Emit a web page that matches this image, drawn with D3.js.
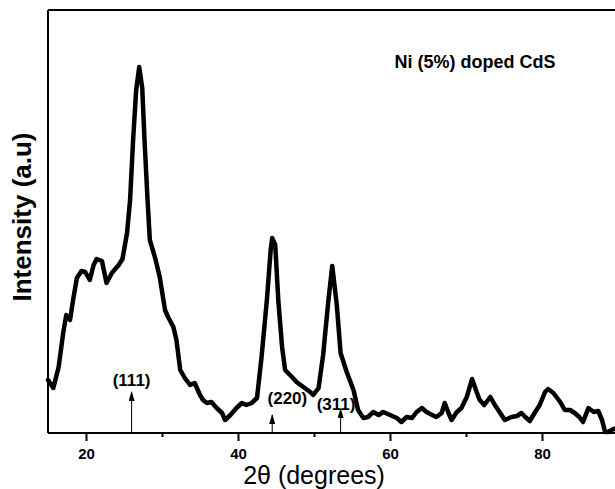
<!DOCTYPE html>
<html>
<head>
<meta charset="utf-8">
<script src="https://cdn.jsdelivr.net/npm/d3@7"></script>
<style>
  body { margin: 0; background: #fff; }
  svg { display: block; font-family: "Liberation Sans", Arial, sans-serif; }
</style>
</head>
<body>
<div id="main"></div>
<script>
// 2theta (deg) and intensity (a.u.)
var twoTheta = [15.0, 15.7, 16.4, 17.0, 17.4, 17.9, 18.3, 18.8, 19.4, 19.9, 20.5, 21.0, 21.4, 22.1, 22.7, 23.4, 24.3, 24.8, 25.4, 25.8,
  26.2, 26.6, 27.0, 27.4, 27.7, 28.1, 28.4, 29.1, 29.7, 30.4, 30.8, 31.5, 31.9, 32.4, 33.0, 33.7, 34.3, 35.0, 35.4, 35.9,
  36.5, 37.2, 37.9, 38.3, 39.0, 39.8, 40.5, 41.1, 41.8, 42.5, 43.1, 43.8, 44.3, 44.5, 44.9, 45.3, 45.8, 46.2, 47.1, 47.7,
  48.6, 49.5, 49.9, 50.6, 51.2, 51.9, 52.4, 53.0, 53.5, 54.3, 55.2, 55.8, 56.5, 57.1, 57.8, 58.5, 59.1, 60.0, 60.9, 61.5,
  62.2, 62.9, 63.5, 64.2, 64.8, 65.3, 66.1, 66.8, 67.2, 67.7, 68.1, 68.8, 69.4, 70.1, 70.8, 71.4, 71.8, 72.4, 73.2, 73.8,
  74.5, 75.1, 76.0, 76.7, 77.3, 77.8, 78.4, 79.1, 79.7, 80.4, 80.8, 81.5, 82.4, 83.0, 83.7, 84.3, 84.9, 85.4, 86.1, 86.8,
  87.4, 87.9, 88.3, 88.7, 89.4, 89.9];
var intensity = [53, 45, 66, 100, 118, 113, 133, 155, 162, 161, 153, 168, 174, 172, 150, 160, 168, 174, 200, 233,
  293, 343, 366, 345, 293, 233, 193, 175, 156, 123, 116, 106, 93, 63, 55, 48, 50, 38, 33, 30,
  31, 25, 20, 13, 18, 25, 30, 28, 30, 35, 76, 133, 183, 195, 188, 133, 86, 63, 56, 51,
  46, 41, 38, 45, 78, 133, 167, 128, 80, 61, 43, 23, 15, 16, 21, 18, 21, 18, 15, 11,
  16, 15, 21, 25, 21, 19, 16, 20, 30, 20, 13, 21, 25, 36, 54, 41, 33, 28, 36, 28,
  20, 13, 16, 17, 20, 16, 12, 21, 28, 41, 44, 40, 31, 23, 23, 20, 16, 11, 25, 21,
  22, 13, 1, 1, 4, 5];

// reflections (hkl) marked with arrows
var hkl = ['(111)', '(220)', '(311)'];
var peakPos = [26.0, 44.5, 53.5];
var arrowTop = [41, 18, 24];
var labelPos = [26.0, 46.5, 52.9];
var labelLevel = [47, 29, 23];

var xTicks = [20, 30, 40, 50, 60, 70, 80, 90];
var xTickLabels = [20, 40, 60, 80];

var width = 615,
    height = 489;

var svg = d3.select("#main").append("svg")
    .attr("width", width)
    .attr("height", height);

var x = d3.scaleLinear().domain([15, 90]).range([48, 618]);
var y = d3.scaleLinear().domain([0, 423]).range([433, 10]);

var data = twoTheta.map(function(d, i) { return {x: d, y: intensity[i]}; });

// frame: top and left
svg.append("line")
    .attr("x1", x(15)).attr("x2", width)
    .attr("y1", y(423)).attr("y2", y(423))
    .attr("stroke", "#000").attr("stroke-width", 2);
svg.append("line")
    .attr("x1", x(15)).attr("x2", x(15))
    .attr("y1", y(423)).attr("y2", y(0))
    .attr("stroke", "#000").attr("stroke-width", 2);

// bottom axis
var xAxis = d3.axisBottom(x)
    .tickValues(xTicks)
    .tickSize(7)
    .tickPadding(8)
    .tickFormat(function(d) { return xTickLabels.indexOf(d) >= 0 ? d : ""; });

var gx = svg.append("g")
    .attr("transform", "translate(0," + y(0) + ")")
    .call(xAxis);
gx.select(".domain").attr("stroke-width", 2).attr("d", "M" + x(15) + ",0H" + width);
gx.selectAll(".tick line")
    .attr("stroke-width", 2)
    .attr("y2", function(d) { return xTickLabels.indexOf(d) >= 0 ? 8 : 4; });
gx.selectAll(".tick text")
    .attr("font-size", 15)
    .attr("font-weight", "bold")
    .attr("font-family", "Liberation Sans, Arial, sans-serif")
    .attr("fill", "#000");

// pattern
var line = d3.line()
    .x(function(d) { return x(d.x); })
    .y(function(d) { return y(d.y); });

svg.append("path")
    .datum(data)
    .attr("d", line)
    .attr("fill", "none")
    .attr("stroke", "#000")
    .attr("stroke-width", 4.5)
    .attr("stroke-linejoin", "round")
    .attr("stroke-linecap", "round");

// arrows
svg.append("defs").append("marker")
    .attr("id", "head")
    .attr("viewBox", "0 0 6 10")
    .attr("refX", 3).attr("refY", 1)
    .attr("markerWidth", 6).attr("markerHeight", 10)
    .attr("markerUnits", "userSpaceOnUse")
    .attr("orient", "0")
  .append("path")
    .attr("d", "M0,10L3,0L6,10Z")
    .attr("fill", "#000");

svg.selectAll(".arrow")
  .data(peakPos)
  .enter().append("line")
    .attr("class", "arrow")
    .attr("x1", function(d) { return x(d); })
    .attr("x2", function(d) { return x(d); })
    .attr("y1", y(0))
    .attr("y2", function(d, i) { return y(arrowTop[i]); })
    .attr("stroke", "#000")
    .attr("stroke-width", 1)
    .attr("marker-end", "url(#head)");

svg.selectAll(".hkl")
  .data(hkl)
  .enter().append("text")
    .attr("class", "hkl")
    .attr("x", function(d, i) { return x(labelPos[i]); })
    .attr("y", function(d, i) { return y(labelLevel[i]); })
    .attr("text-anchor", "middle")
    .attr("font-size", 17)
    .attr("font-weight", "bold")
    .text(function(d) { return d; });

// titles
svg.append("text")
    .attr("x", x(50))
    .attr("y", 484)
    .attr("text-anchor", "middle")
    .attr("font-size", 25)
    .text("2\u03b8 (degrees)");

svg.append("text")
    .attr("transform", "translate(31," + y(216) + ") rotate(-90)")
    .attr("text-anchor", "middle")
    .attr("font-size", 26)
    .attr("font-weight", "bold")
    .text("Intensity (a.u)");

svg.append("text")
    .attr("x", 475)
    .attr("y", 68)
    .attr("text-anchor", "middle")
    .attr("font-size", 18)
    .attr("font-weight", "bold")
    .text("Ni (5%) doped CdS");
</script>
</body>
</html>
